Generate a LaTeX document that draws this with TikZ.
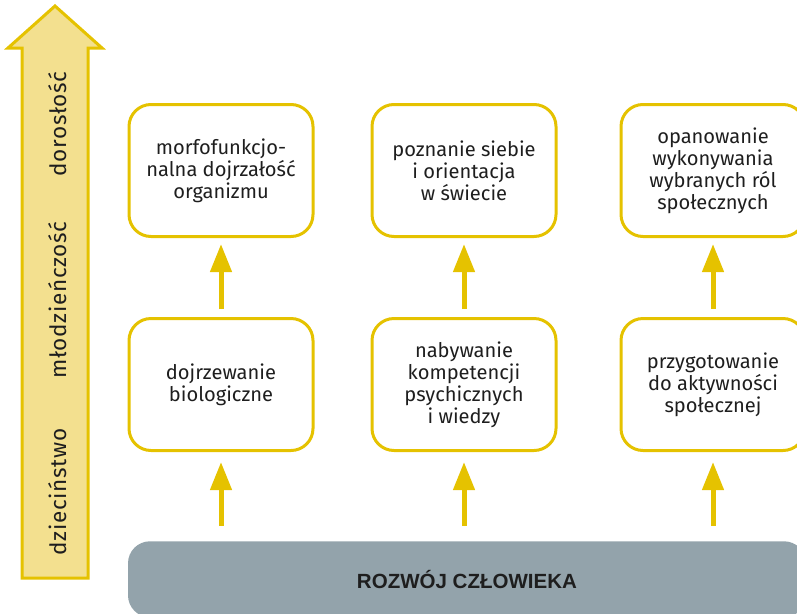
\documentclass[tikz,border=0pt]{standalone}
\usepackage{fontspec}
\setmainfont{Fira Sans}
\newfontfamily\agefont[LetterSpace=3]{Fira Sans}
\newfontfamily\barfont{Liberation Sans}
\usepackage{tikz}
\usetikzlibrary{positioning, arrows.meta, calc}
\definecolor{gold}{RGB}{229,194,0}
\definecolor{paleyellow}{RGB}{243,224,143}
\definecolor{slate}{RGB}{147,163,171}
\definecolor{ink}{RGB}{30,30,30}

\begin{document}
\begin{tikzpicture}[
      >={Triangle[length=0.7cm,width=0.52cm]},
      node distance = 1.975cm and 1.4cm,
      block/.style = {
        draw=gold,
        line width=0.075cm,
        rounded corners=0.55cm,
        minimum width=4.6cm,
        minimum height=3.3cm,
        align=center,
        text=ink,
        font=\fontsize{14.3}{15.7}\selectfont
      },
      bar/.style = {
        fill=slate,
        rounded corners=0.55cm,
        minimum width=16.95cm,
        minimum height=1.9cm,
        text=ink,
        font=\barfont\fontsize{14.6}{16}\selectfont\bfseries
      },
      age/.style = {rotate=90, text=ink, font=\agefont\fontsize{16}{18}\selectfont},
      arr/.style = {->, draw=gold, fill=gold, line width=0.125cm}
    ]

    \useasboundingbox (0,0) rectangle (19.925,-15.325);
    \clip (0,0) rectangle (19.925,-15.325);

    % age axis
    \draw[draw=gold, fill=paleyellow, line width=0.075cm]
      (1.375,-0.15) -- (2.55,-1.2) -- (2.2,-1.2) -- (2.2,-14.45)
      -- (0.55,-14.45) -- (0.55,-1.2) -- (0.2,-1.2) -- cycle;
    \node[age] (dorosl) at (1.43,-3.1)  {dorosłość};
    \node[age] (mlodz)  at (1.43,-7.5)  {młodzieńczość};
    \node[age] (dziec)  at (1.43,-12.3) {dzieciństwo};

    \node[block]                        (morfo)    at (5.525,-4.2625) {morfofunkcjo-\\nalna dojrzałość\\organizmu};
    \node[block, right=of morfo]         (poznanie) {poznanie siebie\\i orientacja\\w świecie};
    \node[block, right=1.55cm of poznanie] (role)  {opanowanie\\wykonywania\\wybranych ról\\społecznych};
    \node[block, below=of morfo]         (biolog)   {dojrzewanie\\biologiczne};
    \node[block, below=of poznanie]      (kompet)   {nabywanie\\kompetencji\\psychicznych\\i wiedzy};
    \node[block, below=of role]          (aktyw)    {przygotowanie\\do aktywności\\społecznej};
    \node[bar, below=2.225cm of kompet, xshift=0.075cm] (rozwoj) {ROZWÓJ CZŁOWIEKA};

    \foreach \lo/\hi in {biolog/morfo, kompet/poznanie, aktyw/role}
      \draw[arr, shorten <=0.2cm, shorten >=0.15cm] (\lo) -- (\hi);
    \foreach \hi in {biolog, kompet, aktyw}
      \draw[arr, shorten <=0.375cm, shorten >=0.25cm] (rozwoj.north -| \hi) -- (\hi);

  \end{tikzpicture}
\end{document}
